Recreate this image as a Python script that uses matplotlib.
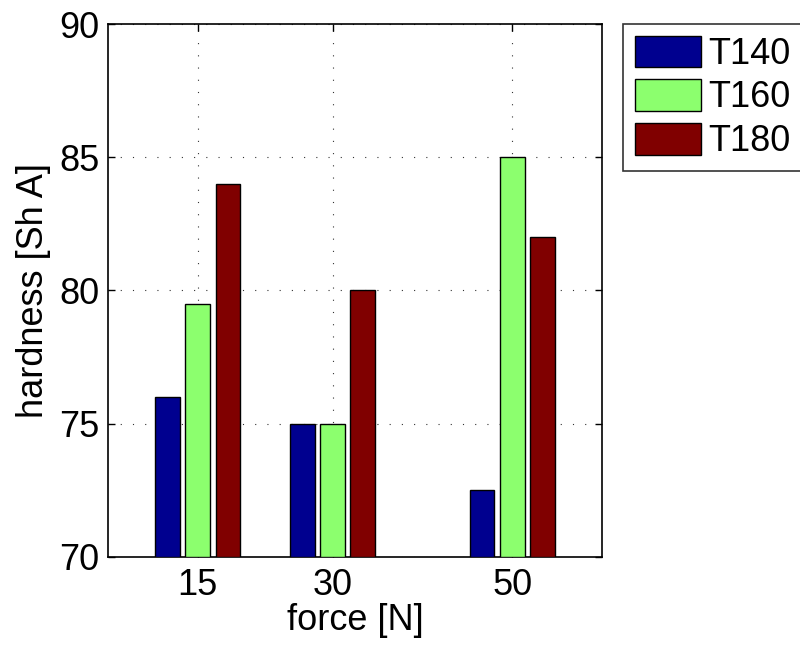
import matplotlib
matplotlib.use("Agg")
import matplotlib.pyplot as plt
import numpy as np

plt.rcParams['font.family'] = ['Liberation Sans', 'DejaVu Sans']

forces = [15, 30, 50]
series = ['T140', 'T160', 'T180']
t140 = [76, 75, 72.5]
t160 = [79.5, 75, 85]
t180 = [84, 80, 82]
colors = ['#00008F', '#8CFF6E', '#800000']
yticks = [70, 75, 80, 85, 90]

fig = plt.figure(figsize=(8, 6.49), dpi=100)
ax = fig.add_axes([0.135, 0.1418, 0.6175, 0.8212])

width = 2.75
offset = 3.35
x = np.array(forces, dtype=float)
handles = []
for i, (vals, c, name) in enumerate(zip([t140, t160, t180], colors, series)):
    b = ax.bar(x + (i - 1) * offset, np.array(vals) - 70, bottom=70, width=width,
               color=c, edgecolor='black', linewidth=1.0, label=name, zorder=3)
    handles.append(b)

ax.set_xlim(5, 60)
ax.set_ylim(70, 90)
ax.set_xticks(forces)
ax.set_xticklabels([str(f) for f in forces])
ax.set_yticks(yticks)
ax.tick_params(axis='both', direction='in', length=5, labelsize=26, top=True, right=True, width=1)
ax.tick_params(axis='x', pad=8)
ax.tick_params(axis='y', pad=6)
ax.grid(True, linestyle=(0, (1, 10)), color='#333333', linewidth=0.8, zorder=0)
ax.set_axisbelow(True)
for s in ax.spines.values():
    s.set_linewidth(1.2)

ax.set_xlabel('force [N]', fontsize=26, labelpad=0)
ax.set_ylabel('hardness [Sh A]', fontsize=26, labelpad=6)

leg = fig.legend(handles=handles, labels=series, loc='upper left',
                 bbox_to_anchor=(623 / 800, 1 - 24 / 649), fontsize=26,
                 frameon=True, fancybox=False, edgecolor='black',
                 handlelength=1.85, handleheight=0.95, handletextpad=0.2,
                 borderpad=0.32, labelspacing=0.22, borderaxespad=0)
leg.get_frame().set_linewidth(1.2)

fig.savefig('out.png', dpi=100)
